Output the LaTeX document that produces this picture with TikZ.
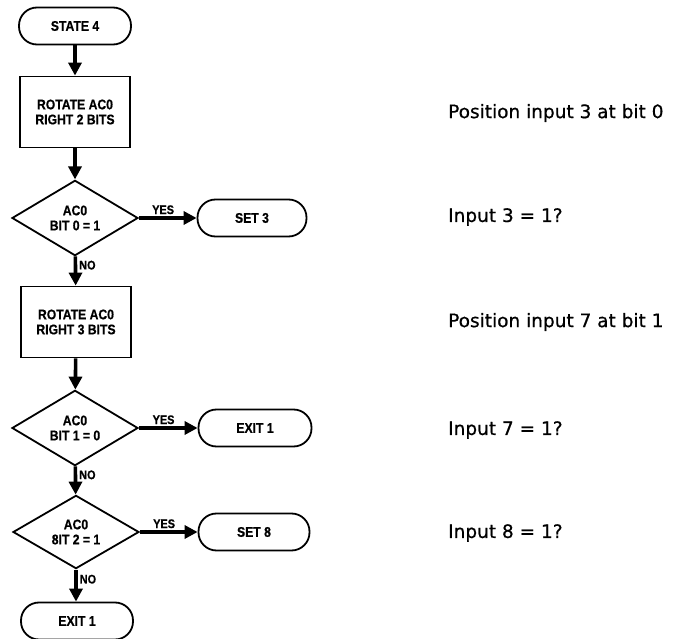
\documentclass[tikz,border=0pt]{standalone}
\usepackage{fontspec}
\newfontfamily\chartfont[FakeStretch=0.87,FakeBold=0.6]{Liberation Sans}
\newfontfamily\notefont[FakeBold=0.7]{DejaVu Sans}
\usetikzlibrary{shapes.geometric,arrows.meta}

\tikzset{
  box font/.style={font=\chartfont\bfseries\fontsize{14}{15}\selectfont},
  term/.style={draw, line width=1.8pt, rounded corners=18pt, minimum width=112pt,
    minimum height=37pt, box font},
  proc/.style={draw, rectangle, line width=1.8pt, minimum width=110pt,
    minimum height=71pt, align=center, box font},
  dec/.style={draw, diamond, line width=1.8pt, minimum width=126pt,
    minimum height=71pt, inner sep=0pt, align=center, box font},
  flow/.style={line width=3.6pt, -{Triangle[length=13pt,width=13pt]}},
  tag/.style={font=\chartfont\bfseries\fontsize{12.5}{13}\selectfont, inner sep=2pt},
  note/.style={anchor=west, inner sep=0pt, font=\notefont\fontsize{18.5}{20}\selectfont}
}

\begin{document}
\begin{tikzpicture}[x=1pt, y=-1pt]
  \useasboundingbox (0,0) rectangle (686,639);

  % -- Main column --
  \node[term] (state4) at (75,26)  {STATE 4};
  \node[proc] (rot2)   at (75,112) {ROTATE AC0\\RIGHT 2 BITS};
  \node[dec]  (bit0)   at (75,218) {AC0\\BIT 0 = 1};
  \node[proc] (rot3)   at (76,322) {ROTATE AC0\\RIGHT 3 BITS};
  \node[dec]  (bit1)   at (75,428) {AC0\\BIT 1 = 0};
  \node[dec]  (bit2)   at (76,532) {AC0\\8IT 2 = 1};
  \node[term] (exitb)  at (77,621) {EXIT 1};

  % -- Branch targets --
  \node[term, minimum width=109pt] (set3)  at (252,218) {SET 3};
  \node[term, minimum width=113pt] (exita) at (255,428) {EXIT 1};
  \node[term, minimum width=111pt] (set8)  at (254,532) {SET 8};

  % -- Flow lines --
  \draw[flow] (state4) -- (rot2);
  \draw[flow] (rot2) -- (bit0);
  \draw[flow] (bit0) -- node[tag, right, pos=0.3] {NO} (rot3);
  \draw[flow] (rot3) -- (bit1);
  \draw[flow] (bit1) -- node[tag, right, pos=0.3] {NO} (bit2);
  \draw[flow] (bit2.south) -- node[tag, right, pos=0.3] {NO} (bit2.south |- exitb.north);

  \draw[flow] (bit0) -- node[tag, above, pos=0.42] {YES} (set3);
  \draw[flow] (bit1) -- node[tag, above, pos=0.42] {YES} (exita);
  \draw[flow] (bit2) -- node[tag, above, pos=0.42] {YES} (set8);

  % -- Notes --
  \node[note] (n1) at (448,113) {Position input 3 at bit 0};
  \node[note] (n2) at (448,217) {Input 3 = 1?};
  \node[note] (n3) at (448,322) {Position input 7 at bit 1};
  \node[note] (n4) at (448,430) {Input 7 = 1?};
  \node[note] (n5) at (448,533) {Input 8 = 1?};

\end{tikzpicture}
\end{document}
